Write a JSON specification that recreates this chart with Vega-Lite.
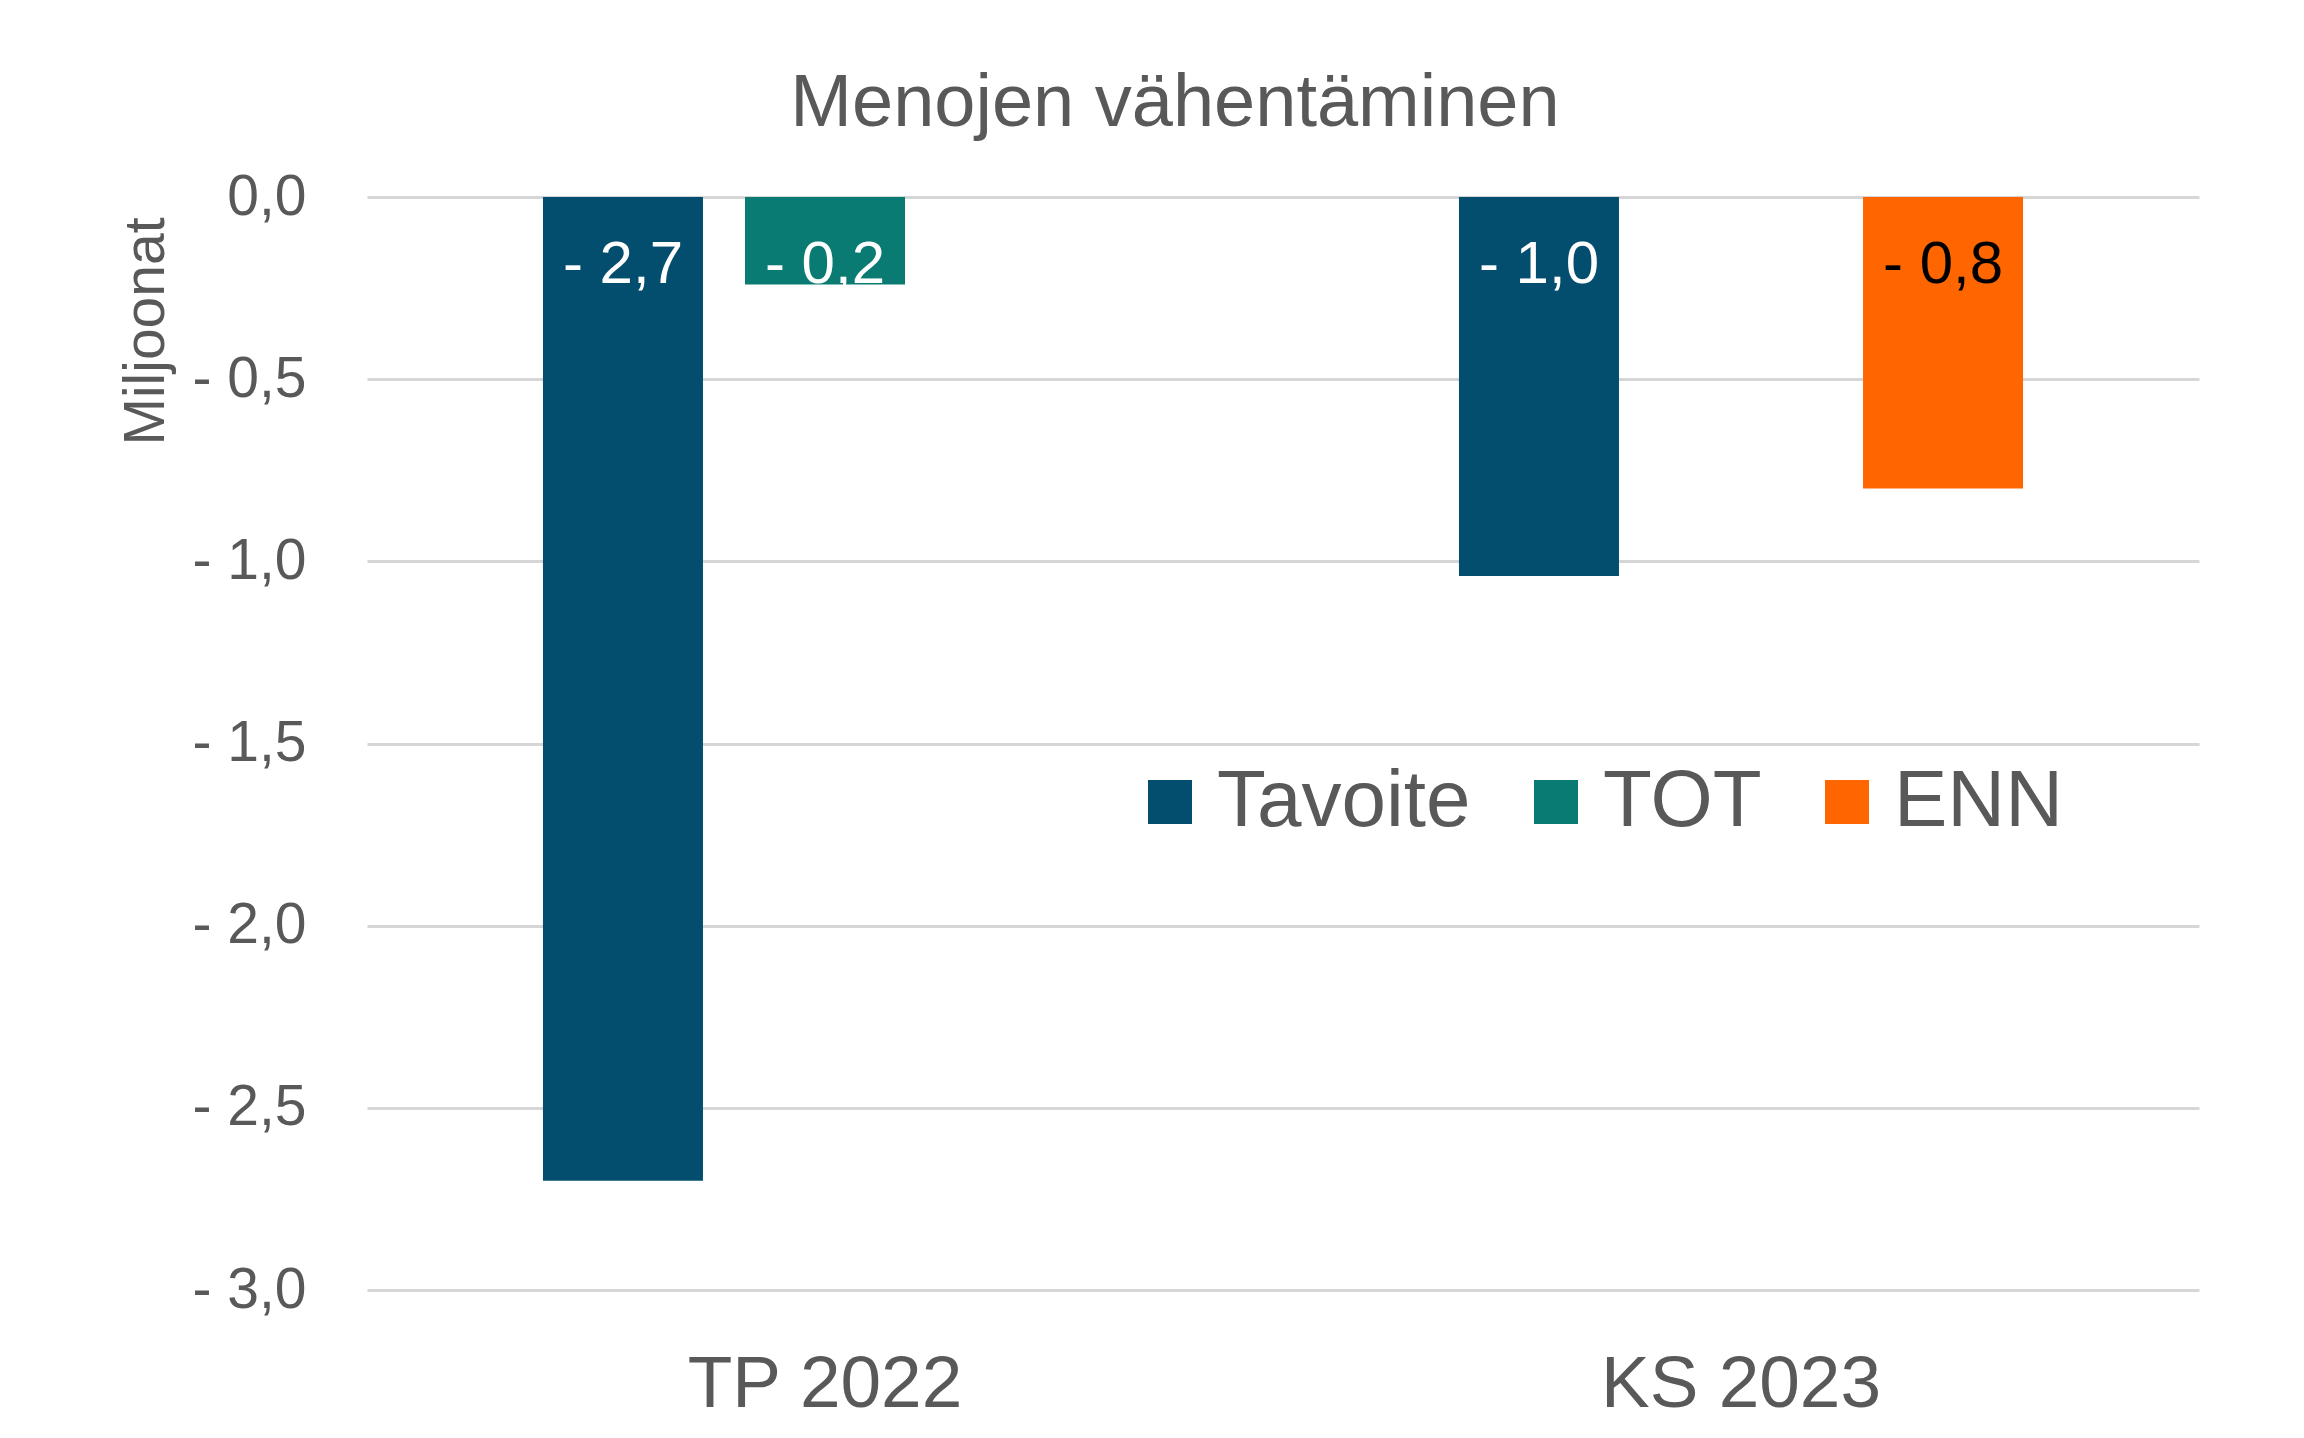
{
  "$schema": "https://vega.github.io/schema/vega-lite/v6.json",
  "autosize": {"type": "none"},
  "width": 1832,
  "height": 1093,
  "padding": {"left": 367, "top": 197, "right": 105, "bottom": 148},
  "background": "white",
  "title": {
    "text": "Menojen vähentäminen",
    "fontSize": 74,
    "font": "Liberation Sans",
    "fontWeight": "normal",
    "color": "#595959",
    "anchor": "middle",
    "baseline": "alphabetic",
    "offset": -32,
    "dx": -108,
    "limit": 0
  },
  "data": {
    "values": [
      {"category": "TP 2022", "series": "Tavoite", "value": -2.7},
      {"category": "TP 2022", "series": "TOT", "value": -0.24},
      {"category": "KS 2023", "series": "Tavoite", "value": -1.04},
      {"category": "KS 2023", "series": "ENN", "value": -0.8}
    ]
  },
  "encoding": {
    "x": {
      "field": "category",
      "type": "nominal",
      "sort": ["TP 2022", "KS 2023"],
      "scale": {"paddingInner": 0, "paddingOuter": 0},
      "axis": {
        "title": null,
        "labelAngle": 0,
        "labelFontSize": 73,
        "labelColor": "#595959",
        "labelFont": "Liberation Sans",
        "labelPadding": 58,
        "labelLimit": 0,
        "ticks": false,
        "domain": false
      }
    },
    "xOffset": {
      "field": "series",
      "type": "nominal",
      "sort": ["Tavoite", "TOT", "ENN"],
      "scale": {"domain": ["Tavoite", "TOT", "ENN"], "paddingInner": 0.208, "paddingOuter": 0.871}
    }
  },
  "layer": [
    {
      "mark": {"type": "bar"},
      "encoding": {
        "y": {
          "field": "value",
          "type": "quantitative",
          "scale": {"domain": [-3, 0], "nice": false},
          "axis": {
            "values": [-3, -2.5, -2, -1.5, -1, -0.5, 0],
            "format": ".1f",
            "title": "Miljoonat",
            "titleFontSize": 57,
            "titleFont": "Liberation Sans",
            "titleFontWeight": "normal",
            "titleColor": "#595959",
            "titleAngle": -90,
            "titleAlign": "center",
            "titleBaseline": "alphabetic",
            "titleX": -204,
            "titleY": 134,
            "labelFontSize": 57,
            "labelFont": "Liberation Sans",
            "labelColor": "#595959",
            "labelPadding": 61,
            "labelLimit": 0,
            "ticks": false,
            "domain": false,
            "grid": true,
            "gridColor": "#d6d6d6",
            "gridWidth": 3
          }
        },
        "color": {
          "field": "series",
          "type": "nominal",
          "scale": {"domain": ["Tavoite", "TOT", "ENN"], "range": ["#034e6e", "#0a7b72", "#ff6600"]},
          "legend": {
            "title": null,
            "orient": "none",
            "direction": "horizontal",
            "legendX": 763,
            "legendY": 565,
            "symbolType": "square",
            "symbolSize": 1936,
            "symbolStrokeWidth": 0,
            "labelFontSize": 80,
            "labelFont": "Liberation Sans",
            "labelColor": "#595959",
            "labelOffset": 7,
            "labelLimit": 0,
            "columnPadding": 45,
            "padding": 0
          }
        }
      }
    },
    {
      "mark": {"type": "text", "baseline": "alphabetic", "dy": 86, "fontSize": 60, "font": "Liberation Sans"},
      "encoding": {
        "y": {"datum": 0, "type": "quantitative"},
        "text": {"field": "value", "type": "quantitative", "format": ".1f"},
        "color": {
          "condition": {"test": "datum.series === 'ENN'", "value": "black"},
          "value": "white"
        }
      }
    }
  ],
  "config": {
    "view": {"stroke": null},
    "locale": {
      "number": {
        "decimal": ",",
        "thousands": " ",
        "grouping": [3],
        "currency": ["", " €"],
        "minus": "- "
      }
    }
  }
}
